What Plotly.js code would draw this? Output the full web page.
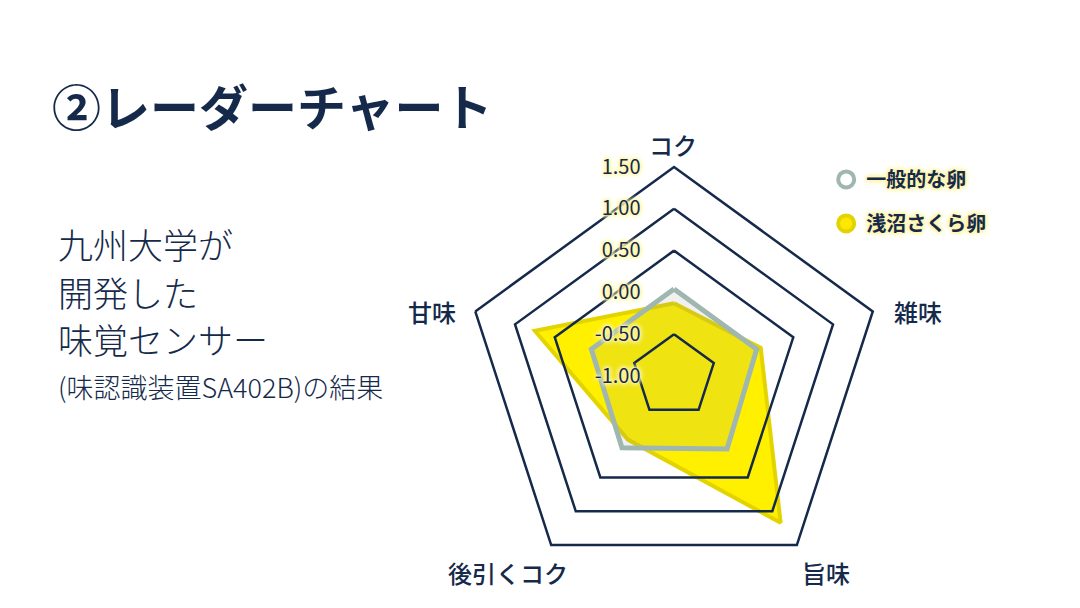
<!DOCTYPE html>
<html>
<head>
<meta charset="utf-8">
<script src="https://cdn.plot.ly/plotly-3.0.1.min.js"></script>
<style>
  html, body { margin: 0; padding: 0; background: #fff; }
  #myDiv { width: 1080px; height: 608px; }
</style>
</head>
<body>
<div id="myDiv"></div>
<script>
var categories = ["コク", "雑味", "旨味", "後引くコク", "甘味"];
var normalEgg = [0.04, 0.04, 0.08, 0.06, 0.04];
var sakuraEgg = [-0.13, 0.09, 1.17, -0.06, 0.75];
var seriesNames = ["一般的な卵", "浅沼さくら卵"];
var radialTicks = [-1, -0.5, 0, 0.5, 1, 1.5];
var gridRings = [-0.5, 0.5, 1.0];
// where each category caption sits (paper fraction)
var catLabelX = [0.623, 0.850, 0.765, 0.470, 0.400];
var catLabelY = [0.762, 0.487, 0.059, 0.059, 0.487];

var navy = "#152a4a";
var font = "'Noto Sans CJK JP', 'Noto Sans', sans-serif";
var glow = "0 0 2px #fff6b0, 0 0 3px #fff6b0, 0 0 4px #fff3a0, 0 0 5px #fff3a0, 0 0 6px #fff6b8, 0 0 6px #fff6b8";

// close the polygon
function closed(a) { return a.concat([a[0]]); }

// white backing under the normal egg so the hidden ring does not show through
var traceNormalBack = {
  type: "scatterpolar",
  r: closed(normalEgg),
  theta: closed(categories),
  mode: "lines",
  fill: "toself",
  fillcolor: "#ffffff",
  line: {width: 0},
  showlegend: false,
  hoverinfo: "skip"
};

var traceSakura = {
  type: "scatterpolar",
  r: closed(sakuraEgg),
  theta: closed(categories),
  mode: "lines",
  fill: "toself",
  fillcolor: "#fff000",
  line: {color: "#e3d400", width: 4},
  showlegend: false,
  hoverinfo: "skip"
};

var traceNormal = {
  type: "scatterpolar",
  r: closed(normalEgg),
  theta: closed(categories),
  mode: "lines",
  fill: "toself",
  fillcolor: "rgba(140,140,140,0.13)",
  line: {color: "#9fb6b1", width: 5},
  showlegend: false,
  hoverinfo: "skip"
};

// grid rings drawn above the data
var ringTraces = gridRings.map(function (v) {
  return {
    type: "scatterpolar",
    r: closed(categories.map(function () { return v; })),
    theta: closed(categories),
    mode: "lines",
    line: {color: navy, width: 2.5},
    showlegend: false,
    hoverinfo: "skip"
  };
});

// legend-only entries with circle symbols
var legNormal = {
  type: "scatterpolar", r: [null], theta: [null], mode: "markers",
  name: seriesNames[0], legendgroup: "a",
  marker: {size: 16, color: "#ffffff", line: {color: "#9fb6b1", width: 4}}
};
var legSakura = {
  type: "scatterpolar", r: [null], theta: [null], mode: "markers",
  name: seriesNames[1], legendgroup: "b",
  marker: {size: 16, color: "#ffe800", line: {color: "#e3d400", width: 4}}
};

var data = [traceNormalBack, traceSakura, traceNormal]
  .concat(ringTraces)
  .concat([legNormal, legSakura]);

var annotations = [
  {text: "②レーダーチャート", xref: "paper", yref: "paper", x: 0.046, y: 0.828,
   xanchor: "left", yanchor: "middle", showarrow: false,
   font: {size: 49, color: navy, family: font, weight: 700}},
  {text: "九州大学が", xref: "paper", yref: "paper", x: 0.052, y: 0.600,
   xanchor: "left", yanchor: "middle", showarrow: false,
   font: {size: 35, color: navy, family: font, weight: 300}},
  {text: "開発した", xref: "paper", yref: "paper", x: 0.052, y: 0.520,
   xanchor: "left", yanchor: "middle", showarrow: false,
   font: {size: 35, color: navy, family: font, weight: 300}},
  {text: "味覚センサー", xref: "paper", yref: "paper", x: 0.052, y: 0.444,
   xanchor: "left", yanchor: "middle", showarrow: false,
   font: {size: 35, color: navy, family: font, weight: 300}},
  {text: "(味認識装置SA402B)の結果", xref: "paper", yref: "paper", x: 0.052, y: 0.364,
   xanchor: "left", yanchor: "middle", showarrow: false,
   font: {size: 27, color: navy, family: font, weight: 300}}
];
categories.forEach(function (c, i) {
  annotations.push({
    text: c, xref: "paper", yref: "paper", x: catLabelX[i], y: catLabelY[i],
    xanchor: "center", yanchor: "middle", showarrow: false,
    font: {size: 24, color: navy, family: font, weight: 500}
  });
});

var layout = {
  width: 1080,
  height: 608,
  margin: {l: 0, r: 0, t: 0, b: 0},
  paper_bgcolor: "#ffffff",
  font: {family: font, color: navy},
  polar: {
    domain: {x: [0.4306, 0.8176], y: [0.0378, 0.7253]},
    gridshape: "linear",
    bgcolor: "rgba(0,0,0,0)",
    radialaxis: {
      range: [-1, 1.5],
      tickvals: radialTicks,
      ticktext: radialTicks.map(function (v) { return v.toFixed(2); }),
      angle: 90,
      tickangle: 90,
      side: "counterclockwise",
      showline: false,
      showgrid: false,
      ticks: "outside",
      ticklen: 26,
      tickcolor: "rgba(0,0,0,0)",
      tickfont: {size: 20, color: navy, family: font, shadow: glow}
    },
    angularaxis: {
      rotation: 90,
      direction: "clockwise",
      showgrid: false,
      showline: true,
      linecolor: navy,
      linewidth: 2.5,
      ticks: "",
      showticklabels: false
    }
  },
  showlegend: true,
  legend: {
    x: 0.765, y: 0.737, xanchor: "left", yanchor: "top",
    bgcolor: "rgba(0,0,0,0)",
    tracegroupgap: 15,
    font: {size: 20, color: navy, family: font, weight: 700, shadow: glow}
  },
  annotations: annotations
};

Plotly.newPlot("myDiv", data, layout, {displayModeBar: false, staticPlot: true});
</script>
</body>
</html>
